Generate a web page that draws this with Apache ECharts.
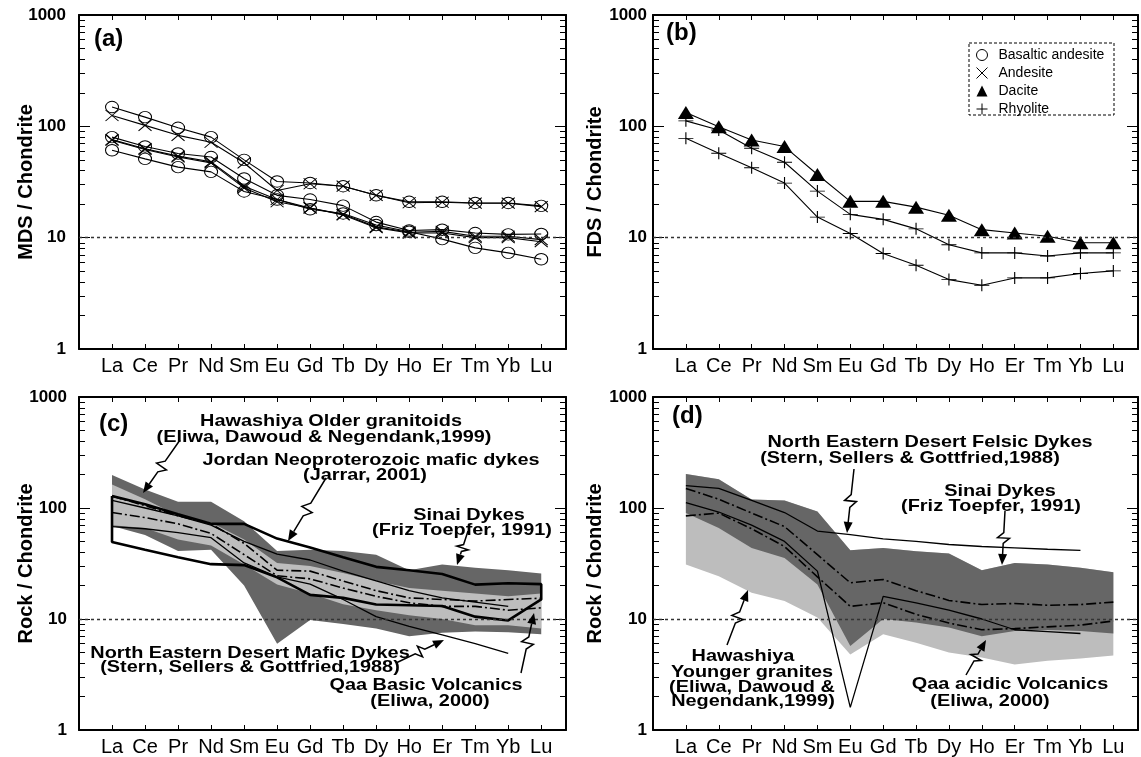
<!DOCTYPE html>
<html>
<head>
<meta charset="utf-8">
<script src="https://cdn.jsdelivr.net/npm/echarts@6/dist/echarts.min.js"></script>
<style>
  html, body { margin: 0; padding: 0; background: #fff; }
  #chart { width: 1141px; height: 757px; }
</style>
</head>
<body>
<div id="chart"></div>
<script>
// REE patterns, chondrite normalised
const ELEMENTS = ['La', 'Ce', 'Pr', 'Nd', 'Sm', 'Eu', 'Gd', 'Tb', 'Dy', 'Ho', 'Er', 'Tm', 'Yb', 'Lu'];

// (a) MDS
const A_BA1 = [149, 121, 97, 80, 50, 32, 31, 29, 24, 21, 21, 20.5, 20.5, 19.3];
const A_AN1 = [125, 102, 83, 72, 47, 26.5, 30.5, 29, 24, 20.6, 20.8, 20.4, 20.4, 19];
const A_BA2 = [80, 66, 57, 53, 34, 24, 22, 19.4, 13.8, 11.6, 11.8, 11, 10.7, 10.8];
const A_AN2 = [76, 63, 54, 48, 29, 22, 18.5, 16, 12.3, 11, 11, 10, 10, 9.2];
const A_AN3 = [75, 62, 53, 47, 28, 21, 18.5, 16.2, 12.5, 11.2, 11.4, 10.3, 10.3, 9.6];
const A_BA3 = [61, 51, 43, 39, 26, 22, 18, 16.5, 13, 11.3, 9.7, 8.1, 7.3, 6.4];

// (b) FDS
const B_DAC = [133, 99, 75.5, 65.8, 36.9, 21.2, 21.2, 18.8, 15.9, 11.8, 11, 10.3, 9, 9];
const B_RHY1 = [112, 92.7, 63.5, 47.6, 26.2, 16.2, 14.6, 12, 8.65, 7.3, 7.3, 6.85, 7.3, 7.3];
const B_RHY2 = [78, 57.3, 42.4, 30.9, 15.3, 10.9, 7.2, 5.65, 4.2, 3.74, 4.35, 4.35, 4.76, 5.03];

// (c) mafic comparison fields
const C_DARK_TOP = [198, 147, 114, 114, 76, 41, 42, 41, 38, 27.5, 31, 29, 27.5, 25.7];
const C_DARK_BOT = [69, 57, 41, 42, 20, 6, 9.8, 9, 8.2, 7, 7.5, 7.7, 7.6, 7.3];
const C_LIGHT_TOP = [163, 120, 85, 74, 52, 32, 30, 26, 22, 19, 18, 17, 16, 17];
const C_LIGHT_BOT = [70, 66, 52, 46, 31, 20.5, 17, 13.6, 12, 10.8, 10, 8.8, 8.8, 8.2];
const C_JORDAN_UP = [128, 108, 88, 72, 72, 53, 44, 36, 29.5, 27.5, 25.4, 20.4, 21, 20.6];
const C_JORDAN_LO = [49.5, 42, 36, 31.2, 30.6, 23.7, 16.5, 15.5, 13.5, 13.3, 13.1, 10.5, 9.7, 15];
const C_THIN1 = [117, 100, 85, 70, 50, 38.4, 34, 27, 22, 18, 15.5, 14.2, 13];
const C_NED = [68, 65, 60, 54, 32, 24, 20.6, 15, 10.5, 8.6, 7.2, 6, 4.9];
const C_DD1 = [128, 105, 85, 72, 48, 27.5, 27, 22, 18, 15.5, 15, 14.5, 15, 15.4];
const C_DD2 = [91, 82, 72, 59, 38, 24.5, 23, 19, 16, 14, 13, 13, 12, 12.6];

// (d) felsic comparison fields
const D_DARK_TOP = [202, 182, 119, 117, 93, 41.7, 43.7, 40.8, 38.9, 27.5, 32, 31, 28.9, 26.4];
const D_DARK_BOT = [90, 66, 43.7, 35.5, 20.5, 5.7, 10, 9.3, 8.4, 7, 7.8, 7.95, 7.8, 7.4];
const D_LIGHT_BOT = [31, 24.3, 17.2, 14.5, 10.3, 4.8, 7.3, 6.1, 5, 4.5, 3.9, 4.2, 4.4, 4.7];
const D_NEDF = [159, 150, 117, 91, 62, 57.6, 52.7, 50, 46.9, 45, 43.8, 42.5, 41.6];
const D_DD1 = [150, 120, 90, 68, 38, 21.2, 22.7, 18, 14.7, 13.5, 13.8, 13.3, 13.5, 14.2];
const D_SOLID = [112, 92, 70, 50, 27, 1.6, 16, 14, 12, 10, 8, 7.7, 7.4];
const D_DD2 = [85, 90, 65, 45, 24, 13, 14, 11, 9.2, 8, 8.2, 8.5, 8.8, 9.6];

const FONT = '"Liberation Sans", Arial, sans-serif';
const X_SYMBOL = 'path://M0,0L10,10M10,0L0,10';
const PLUS_SYMBOL = 'path://M5,0L5,10M0,5L10,5';

const chart = echarts.init(document.getElementById('chart'));

const grids = [
  { left: 79, top: 15, width: 487, height: 334 },
  { left: 653, top: 15, width: 487, height: 334 },
  { left: 79, top: 397, width: 487, height: 335 },
  { left: 653, top: 397, width: 487, height: 335 }
];
const yNames = ['MDS / Chondrite', 'FDS / Chondrite', 'Rock / Chondrite', 'Rock / Chondrite'];
const labelMargins = [13, 6, 12, 6];
const nameGaps = [43, 48, 43, 48];

const black = { color: '#000', width: 2 };

const xAxes = [];
const yAxes = [];
grids.forEach((g, i) => {
  ['bottom', 'top'].forEach((pos) => {
    xAxes.push({
      gridIndex: i, type: 'value', position: pos, min: -1, max: 13.75, interval: 1,
      axisLine: { show: true, onZero: false, lineStyle: black },
      axisTick: { show: true, inside: true, length: 5, lineStyle: { color: '#000', width: 1 } },
      axisLabel: {
        show: pos === 'bottom', color: '#000', fontSize: 20, fontFamily: FONT, margin: 7,
        formatter: (v) => (Number.isInteger(v) && v >= 0 ? ELEMENTS[v] : '')
      },
      splitLine: { show: false }
    });
  });
  ['left', 'right'].forEach((pos) => {
    yAxes.push({
      gridIndex: i, type: 'log', logBase: 10, min: 1, max: 1000, position: pos,
      name: pos === 'left' ? yNames[i] : '',
      nameLocation: 'middle', nameGap: nameGaps[i], nameMoveOverlap: false,
      nameTextStyle: { color: '#000', fontSize: 20, fontWeight: 'bold', fontFamily: FONT },
      axisLine: { show: true, onZero: false, lineStyle: black },
      axisTick: { show: true, inside: true, length: 11, lineStyle: { color: '#000', width: 1 } },
      minorTick: { show: true, splitNumber: 9, length: 6, lineStyle: { color: '#000', width: 1 } },
      axisLabel: {
        show: pos === 'left', color: '#000', fontSize: 17, fontWeight: 'bold',
        fontFamily: FONT, margin: labelMargins[i],
        formatter: (v) => String(Math.round(v))
      },
      splitLine: { show: false }
    });
  });
});

const pts = (vals) => vals.map((v, i) => [i, v]);

const tenLine = {
  silent: true, symbol: 'none', label: { show: false },
  lineStyle: { color: '#333', type: [3, 3], width: 1.3 },
  data: [{ yAxis: 10 }]
};

function marked(g, name, vals, symbol, size, filled) {
  return {
    type: 'line', name, xAxisIndex: 2 * g, yAxisIndex: 2 * g, data: pts(vals),
    symbol, symbolSize: size, symbolKeepAspect: false, showAllSymbol: true, z: 4,
    itemStyle: filled
      ? { color: '#000' }
      : { color: 'rgba(0,0,0,0)', borderColor: '#000', borderWidth: 1 },
    lineStyle: { color: '#000', width: 1.1 }
  };
}

function curve(g, data, width, dash, z) {
  return {
    type: 'line', xAxisIndex: 2 * g, yAxisIndex: 2 * g, data, symbol: 'none', z: z || 4,
    lineStyle: { color: '#000', width, type: dash || 'solid' }
  };
}

function band(g, top, bottom, fill, z) {
  return {
    type: 'custom', xAxisIndex: 2 * g, yAxisIndex: 2 * g, silent: true, z,
    data: [[0, 1]],
    renderItem: (params, api) => {
      const up = top.map((v, i) => api.coord([i, v]));
      const dn = bottom.map((v, i) => api.coord([i, v])).reverse();
      return { type: 'polygon', shape: { points: up.concat(dn) }, style: { fill } };
    }
  };
}

const DASHDOT = [10, 3, 2, 3];
const CIRCLE_SIZE = [13, 11.5];
const X_SIZE = [13, 11];

const jordanLoop = pts(C_JORDAN_UP).concat(pts(C_JORDAN_LO).reverse(), [[0, C_JORDAN_UP[0]]]);

const series = [
  // (a)
  Object.assign(marked(0, 'Basaltic andesite', A_BA1, 'circle', CIRCLE_SIZE), { markLine: tenLine }),
  marked(0, 'Andesite', A_AN1, X_SYMBOL, X_SIZE),
  marked(0, 'Basaltic andesite', A_BA2, 'circle', CIRCLE_SIZE),
  marked(0, 'Andesite', A_AN2, X_SYMBOL, X_SIZE),
  marked(0, 'Andesite', A_AN3, X_SYMBOL, X_SIZE),
  marked(0, 'Basaltic andesite', A_BA3, 'circle', CIRCLE_SIZE),
  // (b)
  Object.assign(marked(1, 'Dacite', B_DAC, 'triangle', [16, 13], true), { markLine: tenLine }),
  marked(1, 'Rhyolite', B_RHY1, PLUS_SYMBOL, [15, 12]),
  marked(1, 'Rhyolite', B_RHY2, PLUS_SYMBOL, [15, 12]),
  // (c)
  band(2, C_DARK_TOP, C_DARK_BOT, '#666', 1),
  band(2, C_LIGHT_TOP, C_LIGHT_BOT, '#bdbdbd', 2),
  Object.assign(curve(2, jordanLoop, 2.6), { markLine: tenLine }),
  curve(2, pts(C_THIN1), 1.3),
  curve(2, pts(C_NED), 1.3),
  curve(2, pts(C_DD1), 1.6, DASHDOT),
  curve(2, pts(C_DD2), 1.6, DASHDOT),
  // (d)
  band(3, D_DARK_TOP, D_LIGHT_BOT, '#bdbdbd', 1),
  band(3, D_DARK_TOP, D_DARK_BOT, '#666', 2),
  Object.assign(curve(3, pts(D_NEDF), 1.3), { markLine: tenLine }),
  curve(3, pts(D_DD1), 1.6, DASHDOT),
  curve(3, pts(D_SOLID), 1.3),
  curve(3, pts(D_DD2), 1.6, DASHDOT)
];

// annotation texts (pixel positions); the source lettering is wide, so stretch it
const notes = [
  ['Hawashiya Older granitoids', 331, 421],
  ['(Eliwa, Dawoud & Negendank,1999)', 324, 437],
  ['Jordan Neoproterozoic mafic dykes', 371, 460],
  ['(Jarrar, 2001)', 365, 475],
  ['Sinai Dykes', 469, 515],
  ['(Friz Toepfer, 1991)', 462, 530],
  ['North Eastern Desert Mafic Dykes', 250, 653],
  ['(Stern, Sellers & Gottfried,1988)', 250, 667],
  ['Qaa Basic Volcanics', 426, 685],
  ['(Eliwa, 2000)', 430, 701],
  ['North Eastern Desert Felsic Dykes', 930, 442],
  ['(Stern, Sellers & Gottfried,1988)', 910, 458],
  ['Sinai Dykes', 1000, 491],
  ['(Friz Toepfer, 1991)', 991, 506],
  ['Hawashiya', 743, 656],
  ['Younger granites', 752, 672],
  ['(Eliwa, Dawoud &', 752, 687],
  ['Negendank,1999)', 753, 701],
  ['Qaa acidic Volcanics', 1010, 684],
  ['(Eliwa, 2000)', 990, 701]
];

const arrows = [
  [180, 440, 143, 493], [326, 478, 288, 541], [468, 531, 457, 565],
  [396, 663, 444, 640], [521, 673, 534, 613],
  [854, 469, 847, 533], [1005, 511, 1002, 565], [727, 645, 748, 590], [966, 675, 986, 640]
];

function bolt(x0, y0, x1, y1) {
  const dx = x1 - x0, dy = y1 - y0, L = Math.hypot(dx, dy);
  const ux = dx / L, uy = dy / L, nx = -uy, ny = ux;
  const P = (t, o) => [x0 + ux * L * t + nx * o, y0 + uy * L * t + ny * o];
  const hl = 11, hw = 4.5;
  const bx = x1 - ux * hl, by = y1 - uy * hl;
  return [
    {
      type: 'polyline', z: 20,
      shape: { points: [P(0, 0), P(0.4, 0), P(0.5, 6), P(0.5, -6), P(0.6, 0), [bx, by]] },
      style: { stroke: '#000', lineWidth: 1.5, fill: null }
    },
    {
      type: 'polygon', z: 20,
      shape: { points: [[x1, y1], [bx + nx * hw, by + ny * hw], [bx - nx * hw, by - ny * hw]] },
      style: { fill: '#000' }
    }
  ];
}

const graphic = [
  {
    type: 'rect', z: 1, shape: { x: 969, y: 43, width: 145, height: 72 },
    style: { fill: '#fff', stroke: '#000', lineWidth: 1, lineDash: [3, 2] }
  }
];
notes.forEach(([text, x, y]) => {
  graphic.push({
    type: 'text', z: 20, x, y, scaleX: 1.17,
    style: {
      text, fill: '#000', font: 'bold 17px ' + FONT,
      textAlign: 'center', textVerticalAlign: 'middle', align: 'center', verticalAlign: 'middle'
    }
  });
});
arrows.forEach((a) => graphic.push(...bolt(...a)));

const panelTitles = [['(a)', 94, 27], ['(b)', 666, 21], ['(c)', 99, 412], ['(d)', 672, 404]];

const option = {
  animation: false,
  backgroundColor: '#fff',
  title: panelTitles.map(([text, left, top]) => ({
    text, left, top, padding: 0,
    textStyle: { color: '#000', fontSize: 24, fontWeight: 'bold', fontFamily: FONT }
  })),
  legend: {
    orient: 'vertical', left: 976, top: 48, z: 5,
    itemWidth: 11, itemHeight: 11, itemGap: 4, padding: 0,
    selectedMode: false,
    textStyle: { color: '#000', fontSize: 14, fontFamily: FONT, padding: [0, 0, 0, 6] },
    data: [
      { name: 'Basaltic andesite', icon: 'circle', itemStyle: { color: '#fff', borderColor: '#000', borderWidth: 1 } },
      { name: 'Andesite', icon: X_SYMBOL, itemStyle: { color: 'rgba(0,0,0,0)', borderColor: '#000', borderWidth: 1 } },
      { name: 'Dacite', icon: 'triangle', itemStyle: { color: '#000', borderWidth: 0 } },
      { name: 'Rhyolite', icon: PLUS_SYMBOL, itemStyle: { color: 'rgba(0,0,0,0)', borderColor: '#000', borderWidth: 1 } }
    ]
  },
  grid: grids,
  xAxis: xAxes,
  yAxis: yAxes,
  series,
  graphic
};

chart.setOption(option);
</script>
</body>
</html>
